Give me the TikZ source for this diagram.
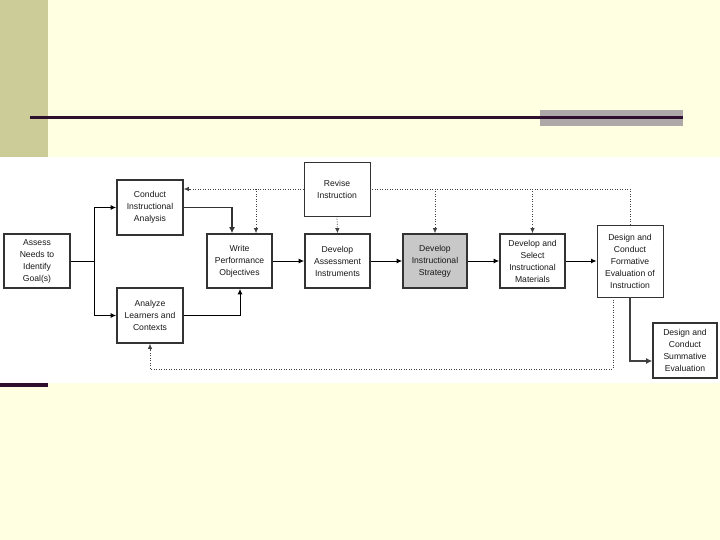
\documentclass[tikz,border=0pt]{standalone}
\usepackage{fontspec}
\setmainfont{Liberation Sans}
\usetikzlibrary{arrows.meta}
\definecolor{bgyellow}{HTML}{FFFFE1}
\definecolor{strip}{HTML}{CCCC99}
\definecolor{rule}{HTML}{2E0F2E}
\definecolor{rulegray}{HTML}{AEA8A8}
\definecolor{boxline}{HTML}{333333}
\definecolor{stratfill}{HTML}{C8C8C8}
\tikzset{
  box/.style={draw=boxline, line width=1.7pt, fill=white, minimum width=66pt, minimum height=54pt,
    align=center, inner sep=1pt, font=\fontsize{8.6}{12}\selectfont, text=black!90},
  thinbox/.style={box, line width=0.9pt},
  conn/.style={draw=black, line width=1pt, -{Latex[length=5.5pt,width=5pt]}},
  thickconn/.style={draw=black!80, line width=1.9pt, -{Latex[length=6pt,width=6pt]}},
  fb/.style={draw=black!75, line width=0.7pt, dash pattern=on 1pt off 1.5pt},
  fbarrow/.style={fb, -{Latex[length=5pt,width=4.5pt]}}
}
\begin{document}
\begin{tikzpicture}[x=1pt,y=-1pt]
\useasboundingbox (0,0) rectangle (720,540);
% background
\fill[bgyellow] (0,0) rectangle (720,540);
\fill[strip] (0,0) rectangle (48,157);
\fill[rulegray] (540,110) rectangle (683,126);
\fill[rule] (30,116.5) rectangle (683,119.5);
\fill[white] (0,157) rectangle (720,383);
\fill[rule] (0,383) rectangle (48,387);

% nodes
\node[box] (assess) at (37,261) {Assess\\Needs to\\Identify\\Goal(s)};
\node[box, minimum height=55pt] (conduct) at (150,207.5) {Conduct\\Instructional\\Analysis};
\node[box, minimum height=55pt] (analyze) at (150,315.5) {Analyze\\Learners and\\Contexts};
\node[box, minimum width=65pt] (write) at (239.5,261) {Write\\Performance\\Objectives};
\node[thinbox] (revise) at (337,189) {Revise\\Instruction};
\node[box, minimum width=65pt] (assessment) at (337.5,261) {Develop\\Assessment\\Instruments};
\node[box, minimum width=64pt, fill=stratfill] (strategy) at (435,261) {Develop\\Instructional\\Strategy};
\node[box, minimum width=65pt] (materials) at (532.5,261) {Develop and\\Select\\Instructional\\Materials};
\node[thinbox, minimum height=72pt] (formative) at (630,261) {Design and\\Conduct\\Formative\\Evaluation of\\Instruction};
\node[box, minimum width=64pt, minimum height=55pt] (summative) at (685,350.5) {Design and\\Conduct\\Summative\\Evaluation};

% helper coordinates
\coordinate (split) at (94,261);
\coordinate (c1) at (232,0);
\coordinate (c2) at (240,0);
\coordinate (d1) at (256,0);
\coordinate (fbx) at (613,0);
\coordinate (fby) at (0,369);
\coordinate (sumy) at (0,361);

% forward connectors
\draw[conn, -] (assess.east) -- (split);
\draw[conn] (split) |- (conduct.west);
\draw[conn] (split) |- (analyze.west);
\draw[thickconn] (conduct.east) -| (c1 |- write.north);
\draw[conn] (analyze.east) -| (c2 |- write.south);
\draw[conn] (write.east) -- (assessment.west);
\draw[conn] (assessment.east) -- (strategy.west);
\draw[conn] (strategy.east) -- (materials.west);
\draw[conn] (materials.east) -- (formative.west);
\draw[thickconn, draw=black!75] (formative.south) |- (summative.west |- sumy);

% feedback (dotted)
\draw[fb] (formative.north) |- (revise.east);
\draw[fbarrow] (revise.west) -- (conduct.east |- revise.west);
\draw[fbarrow] (d1 |- revise.west) -- (d1 |- write.north);
\draw[fbarrow] (revise.south) -- (assessment.north);
\draw[fbarrow] (strategy.north |- revise.east) -- (strategy.north);
\draw[fbarrow] (materials.north |- revise.east) -- (materials.north);
\draw[fbarrow] (fbx |- formative.south) -- (fbx |- fby) -| (analyze.south);
\end{tikzpicture}
\end{document}
